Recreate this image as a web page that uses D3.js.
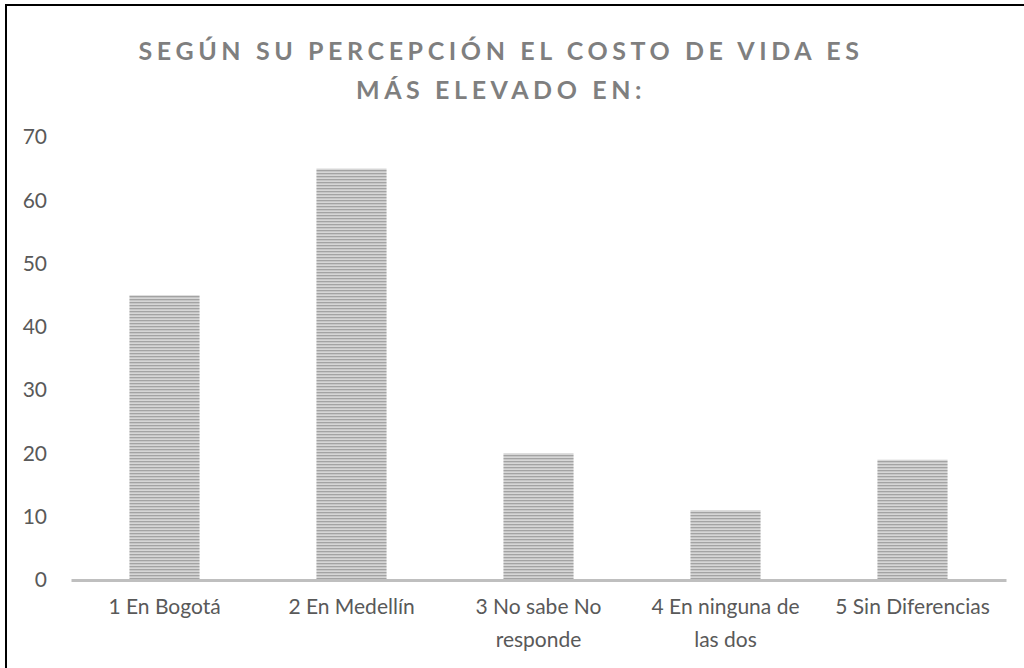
<!DOCTYPE html>
<html>
<head>
<meta charset="utf-8">
<script src="https://cdn.jsdelivr.net/npm/d3@7"></script>
<style>
  body { margin: 0; background: #fff; }
  svg { display: block; }
</style>
</head>
<body>
<svg id="chart" width="1024" height="668"></svg>
<script>
// chart data
var categories = ["1 En Bogotá", "2 En Medellín", "3 No sabe No responde", "4 En ninguna de las dos", "5 Sin Diferencias"];
var category_lines = [["1 En Bogotá"], ["2 En Medellín"], ["3 No sabe No", "responde"], ["4 En ninguna de", "las dos"], ["5 Sin Diferencias"]];
var values = [45, 65, 20, 11, 19];
var y_ticks = [0, 10, 20, 30, 40, 50, 60, 70];
var title_lines = ["SEGÚN SU PERCEPCIÓN EL COSTO DE VIDA ES", "MÁS ELEVADO EN:"];

var total_width = 1024, total_height = 668;
var margin = {top: 137, right: 18, bottom: 88, left: 71};
var width = total_width - margin.left - margin.right;
var height = total_height - margin.top - margin.bottom;
var font = "Lato, 'Open Sans', sans-serif";

var svg = d3.select("#chart");

// striped fill like the original
var defs = svg.append("defs");
var pattern = defs.append("pattern")
    .attr("id", "stripes")
    .attr("patternUnits", "userSpaceOnUse")
    .attr("width", 6).attr("height", 3);
pattern.append("rect").attr("width", 6).attr("height", 3).attr("fill", "#d6d6d6");
pattern.append("rect").attr("width", 6).attr("height", 1.3).attr("fill", "#a3a3a3");

// outer frame, runs off the right and bottom edge
svg.append("rect")
    .attr("x", 6).attr("y", 5)
    .attr("width", 1100).attr("height", 800)
    .attr("fill", "none")
    .attr("stroke", "#000")
    .attr("stroke-width", 2);

// title
svg.append("g").selectAll("text")
    .data(title_lines)
    .enter().append("text")
    .attr("x", 501)
    .attr("y", function(d, i) { return 60 + i * 39; })
    .attr("text-anchor", "middle")
    .attr("font-family", font)
    .attr("font-size", 25)
    .attr("font-weight", "bold")
    .attr("letter-spacing", 4.6)
    .attr("fill", "#7f7f7f")
    .text(function(d) { return d; });

var g = svg.append("g")
    .attr("transform", "translate(" + margin.left + "," + margin.top + ")");

var x = d3.scaleBand()
    .domain(categories)
    .range([0, width])
    .paddingInner(0.625)
    .paddingOuter(0.3125);

var y = d3.scaleLinear()
    .domain([0, 70])
    .range([height, 0]);

// y axis labels, no line
var y_axis = g.append("g")
    .attr("class", "y-axis")
    .call(d3.axisLeft(y).tickValues(y_ticks).tickSize(0).tickPadding(24));
y_axis.select(".domain").remove();
y_axis.selectAll(".tick text")
    .attr("font-family", font)
    .attr("font-size", 21)
    .attr("fill", "#595959");

// bars
g.append("g")
    .selectAll("rect")
    .data(values)
    .enter().append("rect")
    .attr("x", function(d, i) { return x(categories[i]); })
    .attr("y", function(d) { return y(d); })
    .attr("width", x.bandwidth())
    .attr("height", function(d) { return y(0) - y(d); })
    .attr("fill", "url(#stripes)");

// x axis
var x_axis = g.append("g")
    .attr("class", "x-axis")
    .attr("transform", "translate(0," + height + ")")
    .call(d3.axisBottom(x).tickSize(0).tickSizeOuter(0).tickFormat(""));
x_axis.select(".domain")
    .attr("stroke", "#bfbfbf")
    .attr("stroke-width", 3);

// category labels, wrapped like the original
x_axis.selectAll(".tick").each(function(d, i) {
    var t = d3.select(this).select("text")
        .attr("y", 0)
        .attr("dy", null)
        .attr("font-family", font)
        .attr("font-size", 21)
        .attr("fill", "#595959");
    t.selectAll("tspan")
        .data(category_lines[i])
        .enter().append("tspan")
        .attr("x", 0)
        .attr("y", function(l, j) { return 34 + j * 33; })
        .text(function(l) { return l; });
});
</script>
</body>
</html>
